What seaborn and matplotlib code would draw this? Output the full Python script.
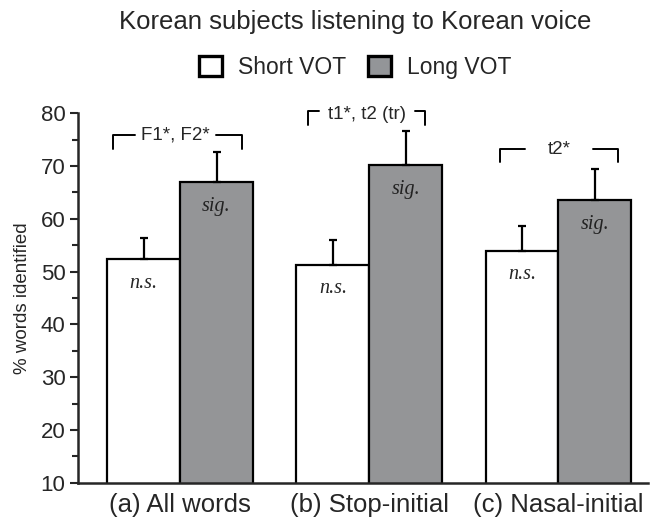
import numpy as np
import pandas as pd
import matplotlib
matplotlib.use("Agg")
import matplotlib.pyplot as plt
from matplotlib.patches import Patch
from matplotlib.ticker import MultipleLocator
import seaborn as sns

# Data
groups = ["(a) All words", "(b) Stop-initial", "(c) Nasal-initial"]
voices = ["Short VOT", "Long VOT"]
short_vals = [52.3, 51.3, 53.9]
long_vals = [67.0, 70.1, 63.6]
short_err = [4.0, 4.6, 4.7]
long_err = [5.7, 6.5, 5.9]
short_marks = ["n.s.", "n.s.", "n.s."]
long_marks = ["sig.", "sig.", "sig."]
bracket_labels = ["F1*, F2*", "t1*, t2 (tr)", "t2*"]
bracket_tops = [75.8, 80.4, 73.2]
bracket_bottoms = [73.2, 77.7, 70.7]

df = pd.DataFrame({
    "group": groups * 2,
    "voice": [voices[0]] * 3 + [voices[1]] * 3,
    "pct": short_vals + long_vals,
})

sns.set_style("ticks")
plt.rcParams["font.family"] = ["Liberation Sans", "DejaVu Sans"]

fig = plt.figure(figsize=(6.58, 5.26), dpi=100)
ax = fig.add_axes([0.1185, 0.082, 0.867, 0.703])

gray = "#939598"
sns.barplot(data=df, x="group", y="pct", hue="voice", order=groups, hue_order=voices,
            palette=["white", gray], edgecolor="black", linewidth=1.6,
            width=0.77, errorbar=None, legend=False, ax=ax)

# upper-only error bars at bar centres
bars = ax.patches
for i, (vals, errs) in enumerate([(short_vals, short_err), (long_vals, long_err)]):
    xs = [bars[i * 3 + j].get_x() + bars[i * 3 + j].get_width() / 2 for j in range(3)]
    ax.errorbar(xs, vals, yerr=[np.zeros(3), errs], fmt="none", ecolor="black",
                elinewidth=1.6, capsize=3, capthick=1.6, zorder=1)

# n.s. / sig. labels inside the bars
for j in range(3):
    b0 = bars[j]
    b1 = bars[3 + j]
    ax.text(b0.get_x() + b0.get_width() / 2, short_vals[j] - 4.5, short_marks[j],
            ha="center", va="center", fontsize=14.5, style="italic", family="Liberation Serif")
    ax.text(b1.get_x() + b1.get_width() / 2, long_vals[j] - 4.6, long_marks[j],
            ha="center", va="center", fontsize=14.5, style="italic", family="Liberation Serif",
            color="#222222")

# brackets with significance text
spans = [(-0.354, -0.238, 0.19, 0.328), (-0.323, -0.265, 0.243, 0.296), (-0.307, -0.175, 0.185, 0.317)]
for j, (l0, l1, r0, r1) in enumerate(spans):
    top, bot = bracket_tops[j], bracket_bottoms[j]
    ax.plot([j + l0, j + l0, j + l1], [bot, top, top], color="black", lw=1.4, clip_on=False)
    ax.plot([j + r0, j + r1, j + r1], [top, top, bot], color="black", lw=1.4, clip_on=False)
    ty = top - 0.6 if j == 1 else top
    ax.text(j + (l1 + r0) / 2, ty, bracket_labels[j], ha="center", va="center", fontsize=13.5)

ax.set_ylim(10, 80)
ax.set_xlim(-0.54, 2.476)
ax.yaxis.set_major_locator(MultipleLocator(10))
ax.yaxis.set_minor_locator(MultipleLocator(5))
ax.tick_params(axis="y", which="major", length=6, width=1.5, labelsize=16, pad=3)
ax.tick_params(axis="y", which="minor", length=4, width=1.5)
ax.tick_params(axis="x", length=0, labelsize=18.5, pad=7)
ax.set_xlabel("")
ax.set_ylabel("% words identified", fontsize=13.5, labelpad=7)
sns.despine(ax=ax)
for s in ["left", "bottom"]:
    ax.spines[s].set_linewidth(1.8)

fig.text(0.54, 0.958, "Korean subjects listening to Korean voice", ha="center", va="center", fontsize=18.5)
handles = [Patch(facecolor="white", edgecolor="black", linewidth=2.4),
           Patch(facecolor=gray, edgecolor="black", linewidth=2.4)]
fig.legend(handles, voices, loc="center", bbox_to_anchor=(0.54, 0.872), ncol=2, frameon=False,
           fontsize=16.5, handlelength=1.0, handleheight=1.0, handletextpad=0.7, columnspacing=0.95)

fig.savefig("out.png", dpi=100)
